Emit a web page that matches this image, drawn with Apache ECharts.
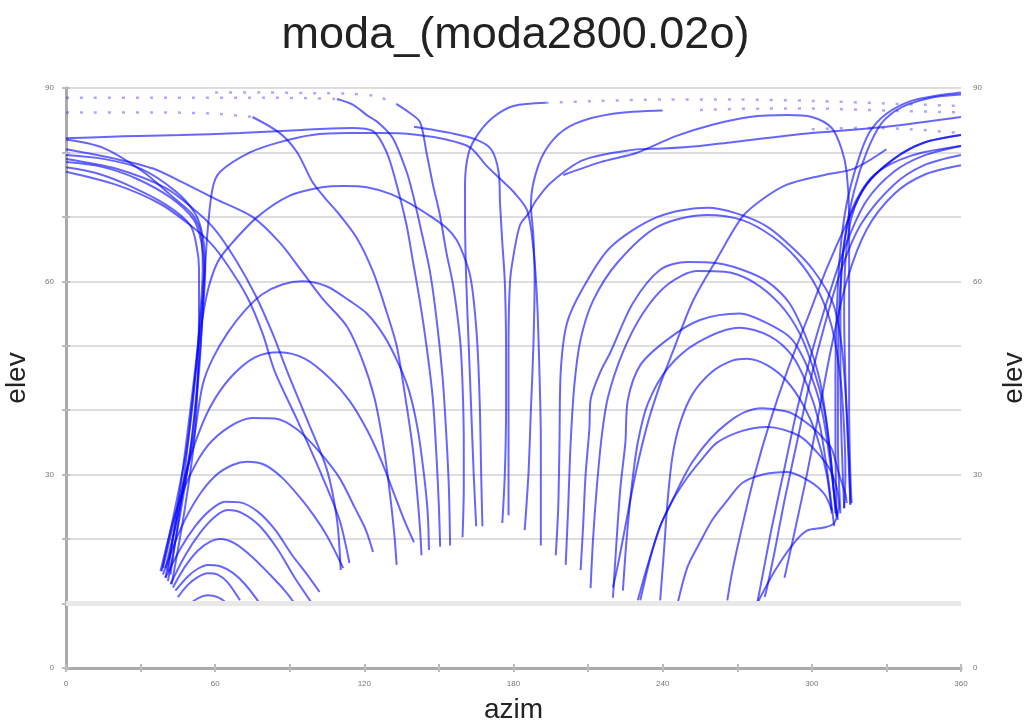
<!DOCTYPE html>
<html>
<head>
<meta charset="utf-8">
<script src="https://cdn.jsdelivr.net/npm/echarts@6/dist/echarts.min.js"></script>
<style>
html,body{margin:0;padding:0;background:#fff;}
#chart{width:1031px;height:726px;}
</style>
</head>
<body>
<div id="chart"></div>
<script>
// Tick labels
const xTickLabels = [0, 60, 120, 180, 240, 300, 360];
const yTickLabels = [0, 30, 60, 90];
const maskElevation = 10;

// Satellite tracks, each a list of [azimuth, elevation] points
const leftArcs = [
  [[38,15],[44,24],[50,30],[57,34.5],[66,37.5],[75,38.8],[84,38.7],[93,37],[102,33.5],[110,29.5],[116,25],[120.5,21.5],[123.5,18]],
  [[39,14.5],[46,21.5],[53,26.5],[60,29.8],[67,31.5],[73,32],[80,31.5],[87,29.5],[94,26.5],[100,23.5],[105,20.5],[109,17.5],[111.5,15.5]],
  [[40,14],[46,18.5],[52,22],[58,24.5],[64,25.8],[70,25.7],[77,24.3],[84,21.5],[91,17.5],[97,14.5],[102,11.8]],
  [[42,13],[48,17.5],[54,21],[60,23.5],[65,24.5],[71,24],[78,22],[85,18.5],[92,14],[99,10]],
  [[43,12.5],[48,15.8],[53,18.2],[58,19.6],[62,20],[68,19.3],[75,17.2],[82,14.5],[88,12],[92,10]],
  [[44,12],[49,14.2],[53,15.4],[57,16],[62,15.8],[67,14.8],[72,13],[78,10]],
  [[45,11],[49,12.9],[53,14.1],[57,14.7],[61,14.5],[65,13.3],[70,10.5]],
  [[51,10.3],[54,11],[57,11.3],[61,11],[65,10]],
  [[39,15.5],[43,22],[47,28.5],[52,35],[58,40.5],[66,45],[76,48.2],[86,49],[96,48],[106,45],[114,41.5],[121,37],[127,32],[132,27],[136,23],[140,19.5]],
  [[40,15.5],[44,22],[48,29],[52,37],[55,44],[59,48],[65,52],[72,55.5],[79,58],[87,59.5],[95,60],[105,59.2],[114,57],[121,55],[128,51.5],[134,47],[138,43],[141.5,37],[144,30],[145.5,24],[146,18.3]]
];

const leftBundle = [
  [[38.5,15],[44,25],[49,35],[52,45],[54,55],[55,62],[54.5,67],[51,70.3],[42,73.4],[31,77],[15,80.7],[0,82]],
  [[40,14],[45,24],[50,34],[53,45],[55,55],[56,62],[55,67],[52,70.5],[44,74],[30,77.5],[15,79],[0,79.6]],
  [[41,13.5],[46,24],[50.5,35],[53.5,46],[55,56],[55.5,62],[54.5,66],[51.5,69.5],[42,73],[28,76],[14,77.8],[0,78.5]],
  [[42.5,13],[47.5,24],[51.5,35],[53,45],[53.5,55],[53.5,62],[52.5,65.5],[50,68.7],[40.6,71.8],[24.5,75],[12,76.8],[0,77.7]]
];

const leftDiagonals = [
  [[0,80.5],[20,79],[35,77.5],[46.7,75.4],[60,72.8],[75,70],[86,66],[95,61.5],[103,57.4],[113,53],[119,48],[124,42],[127.5,35],[130,28],[132,21],[133,16]],
  [[0,77],[20,75],[38,72],[50,68.7],[58,66],[65,62.5],[73,57.5],[79,52],[84,46],[93,38.5],[102,30.7],[110,23],[114,16.3]],
  [[0,79],[20,77.5],[40,74.5],[52,71],[60,68],[68,63.5],[76,58],[83,52],[89,46],[97,38.5],[105,30.7],[109,23],[110.5,15.2]]
];

const centerTracks = [
  [[75,85.5],[86,83],[93,80],[99,75.5],[104,73],[109,70.8],[117,66.7],[123.5,61.5],[129,55.2],[133,50],[136.5,42],[139.5,34],[141.5,26],[142.5,21],[143,17.5]],
  [[0,82.2],[23,82.5],[46,82.7],[70,83],[95,83.5],[115,83.8],[123.5,83.3],[129,80],[133,75],[137,68.7],[139.6,63],[142.4,56.8],[145,50],[147.5,42],[149,33],[150,25],[150.5,18.8]],
  [[109,88.3],[115.5,87.4],[121,85.8],[126,84.5],[131.5,82.2],[137,77],[139.6,73.4],[142.4,68.7],[146.4,61.5],[149,54.3],[151.5,45],[153,36],[154,28],[154.5,19]],
  [[133,87.5],[138,86.2],[142.4,84.7],[145,80],[147.6,75],[150.4,70.3],[153,64.5],[155.7,59.4],[158.5,51],[159.5,44],[160,35],[160,28],[159.5,20.3]],
  [[193,87.7],[180,87.2],[172,85.5],[166,83],[162,80],[160.5,75],[160.5,70],[161,60],[162,50],[163,40],[164,30],[165,22]],
  [[42,14.5],[47,28],[51,42],[54,52],[57,58.5],[61,63],[66,65.6],[77,70],[90,73.3],[103,74.6],[112,74.8],[121,74.6],[131,73.5],[139.6,71.8],[147,70],[153,68.3],[157,66.5],[160,64],[162.5,61],[164,57],[165.5,50],[166.5,40],[167,30],[167.5,22]],
  [[140,84],[155,83],[165,82],[171,80.5],[174,77],[174.6,72],[175.5,66],[176.5,60],[177,50],[177,40],[176.5,30],[175.5,22.5]],
  [[360,85.5],[330,84],[300,83],[268,81.6],[255,81],[240,80.6],[228,80.4],[208,78.8],[195,75.3],[189,72.5],[186,70.5],[182.6,68.7],[180,64],[178.6,60],[178,50],[178,40],[178,30],[178,23.7]],
  [[240,86.5],[220,86],[205,84.5],[196,82],[190,78],[187,72],[188,67],[188.5,60],[188,50],[187,40],[186,30],[184.5,21.4]],
  [[41,15],[46,28],[50,40],[53,50],[55.5,60],[57,68],[59,74.5],[62,77],[74,80],[86,81.6],[99,82.7],[113,83],[126,83],[140,82.8],[153,82],[162.5,80.8],[169,78],[176,75.4],[180,73.9],[185.5,71],[188,65],[189.5,57],[190.5,45],[191,35],[191,27],[191,19]]
];

const rightArcs = [
  [[197,17.5],[198,25],[198.5,35],[199,46],[201.5,53.5],[208,59],[219,65.3],[238,70],[258,71.4],[270,70.5],[282,68.5],[292,65.3],[300.5,61.8],[308.5,56.6],[312,50],[314,40],[315,32],[315.5,25.3]],
  [[201,16],[202,25],[203,35],[204.5,44],[207,51],[212,57],[222,63],[238,68.5],[258,70.3],[272,69.5],[284,67],[294,63.5],[302,59],[308,53],[311.5,45],[313,37],[313.5,30],[313,24.8]],
  [[207,15.2],[208,22],[209,30],[210.5,37],[211,41.6],[215,46],[219,49],[228,56.6],[239,61.8],[250,63],[262,62.8],[272,61.8],[282,60],[291,56.6],[298,51],[303,45],[306,38],[308,31],[309.5,24]],
  [[211,12.4],[212,20],[213.5,28],[215.5,36],[218,42],[224,49],[232,55],[242,59.5],[254,61.6],[265,61.5],[276,60],[287,56.5],[295,52],[301,46],[305,40],[307.5,33],[309,27],[310,23.5]],
  [[220,10.9],[221.5,20],[223,28],[225,35],[226,41.6],[231,47],[242,51],[255,54],[271,55],[282,53.5],[292,51],[299,46],[304,40],[307,33],[309,27],[310.5,23]],
  [[224,12],[225.5,20],[227.5,28],[230,35],[234,41],[242,46.5],[254,50.5],[271,52.8],[283,51.5],[292,48.5],[298,44],[303,38],[306,31],[308,25],[309,22]],
  [[239,10.5],[240.5,18],[242,26],[244,33],[247,38],[252,42.5],[260,46],[268,47.7],[274,48],[282,47],[290,44.5],[297,40.5],[302,36],[306,30],[308,24]],
  [[231,10.5],[235,17],[239,22],[242,24.5],[247,28.5],[252,32],[259,35.5],[266,38],[273,39.7],[280,40.3],[287,40],[292,39.5],[300,37.4],[305,35.5],[308,34],[311,30],[313.5,27],[314,25.6]],
  [[230,10.5],[234,16],[239,22],[244,26],[250,29.6],[256,32.5],[262,35],[272,36.8],[282,37.4],[295,36],[302,33.5],[307,31],[310,28],[311,25]],
  [[246,10],[250,15.7],[255,19.5],[260,23],[266,26],[272,28.7],[280,30],[290,30.4],[299,29],[305,27],[308,24.5]],
  [[278,10],[285,15],[292,19],[298,21.3],[305,21.8],[309,22.5],[311,25]]
];

const rightBundle = [
  [[315.5,25.5],[314.5,35],[313.5,45],[313,55],[313.5,63],[316,70],[322,75],[333,79],[345,81.5],[360,82.7]],
  [[313,24.8],[312,35],[311.5,45],[311.5,55],[312.5,64],[316,71],[325,76.5],[340,79.5],[360,81]],
  [[310,23.5],[309.5,35],[309.5,45],[310,55],[311.5,65],[314,72],[318,78],[323,83],[330,86],[340,88],[350,88.8],[360,89.3]],
  [[311.5,24],[310.5,35],[310.5,46],[311,56],[313,66],[317,74],[322,80],[328,84.5],[336,87],[348,88.5],[360,89]],
  [[200,76.5],[215,78.5],[230,80],[245,82.5],[260,84.3],[275,85.5],[290,85.8],[300,85.5],[308,83.8],[312,80.5],[314,77],[315,70],[315,60],[315,50],[315,40],[315.5,30],[316,25.6]]
];

const rightDiagonals = [
  [[360,82.7],[345,81.5],[333,79],[322,75],[314,69],[306,62],[298,54],[290,46],[283,38],[277,30],[272,22],[268,15],[266,10.5]],
  [[360,81],[345,79.5],[333,77],[322,72.5],[314,66],[307,58],[300,49],[294,40],[289,31],[284,22],[280,14],[278,10]],
  [[360,79.6],[345,78],[333,75],[320,69],[312,62],[305,53],[299,44],[294,35],[289,26],[285,18],[282,12.5],[281,11]],
  [[360,78],[345,76.5],[333,73.5],[322,68],[314,60],[308,50],[303,40],[298,30],[293,21],[289,14]],
  [[330,80.5],[317,77.5],[305,76.5],[290,75],[280,72.7],[272,70],[262,63.6],[252,56.8],[244,49],[239,44],[234,38],[229,30],[225,22],[222,16],[220,12.5]]
];

const dottedTracks = [
  [[0,88.5],[40,88.5],[80,88.5],[100,88.4],[109,88.3]],
  [[60,89.3],[80,89.3],[100,89.2],[115,89.1],[125,88.7],[133,87.5]],
  [[0,86.2],[40,86.2],[60,86],[75,85.5]],
  [[193,87.7],[215,88],[240,88.2],[270,88.2],[300,88],[330,87.6],[360,87.2]],
  [[255,86.6],[280,86.8],[300,86.8],[330,86.5],[360,86.2]],
  [[300,83.6],[320,83.8],[340,83.6],[360,83]]
];

const solidGroups = [leftArcs, leftBundle, leftDiagonals, centerTracks, rightArcs, rightBundle, rightDiagonals];

const series = [];
series.push({
  type: 'line', data: [], silent: true, xAxisIndex: 0, yAxisIndex: 0, z: 1,
  markLine: {
    silent: true, symbol: 'none', label: { show: false },
    lineStyle: { color: '#e8e8e8', width: 5, type: 'solid' },
    data: [{ yAxis: maskElevation }]
  }
});
solidGroups.forEach(group => group.forEach(track => {
  series.push({
    type: 'line', data: track, showSymbol: false, smooth: 0.3, silent: true,
    xAxisIndex: 0, yAxisIndex: 0, z: 3,
    lineStyle: { color: 'rgba(0,0,255,0.6)', width: 2 }
  });
}));
dottedTracks.forEach(track => {
  series.push({
    type: 'line', data: track, showSymbol: false, smooth: 0.3, silent: true,
    xAxisIndex: 0, yAxisIndex: 0, z: 3,
    lineStyle: { color: 'rgba(40,40,255,0.4)', width: 2.5, type: [3, 11] }
  });
});

const axisLineStyle = { color: '#aaaaaa', width: 3 };
const labelStyle = { fontSize: 8, color: '#777', fontFamily: 'Liberation Sans, Arial, sans-serif' };
const nameStyle = { fontSize: 28, color: '#222', fontFamily: 'Liberation Sans, Arial, sans-serif' };

const chart = echarts.init(document.getElementById('chart'), null, { renderer: 'canvas' });
chart.setOption({
  animation: false,
  backgroundColor: '#ffffff',
  title: {
    text: 'moda_(moda2800.02o)', left: 'center', top: 8,
    textStyle: { fontSize: 45, fontWeight: 'normal', color: '#222', fontFamily: 'Liberation Sans, Arial, sans-serif' }
  },
  grid: { left: 66, right: 70, top: 88, bottom: 58, outerBoundsMode: 'none', containLabel: false },
  xAxis: [
    {
      type: 'value', min: 0, max: 360, interval: 30, position: 'bottom',
      axisLine: { lineStyle: axisLineStyle },
      axisTick: { show: true, length: 4, lineStyle: { color: '#bbb', width: 2 } },
      axisLabel: { ...labelStyle, margin: 12, formatter: v => xTickLabels.includes(v) ? String(v) : '' },
      splitLine: { show: false },
      name: 'azim', nameLocation: 'middle', nameGap: 28, nameTextStyle: nameStyle
    },
    {
      type: 'value', min: 0, max: 360, interval: 30, position: 'top',
      axisLine: { lineStyle: axisLineStyle },
      axisTick: { show: true, length: 4, lineStyle: { color: '#bbb', width: 2 } },
      axisLabel: { show: false },
      splitLine: { show: false }
    }
  ],
  yAxis: [
    {
      type: 'value', min: 0, max: 90, interval: 10, position: 'left',
      axisLine: { show: true, lineStyle: axisLineStyle },
      axisTick: { show: true, length: 4, lineStyle: { color: '#bbb', width: 2 } },
      axisLabel: { ...labelStyle, margin: 12, formatter: v => yTickLabels.includes(v) ? String(v) : '' },
      splitLine: { show: true, lineStyle: { color: '#dedede', width: 2 } },
      name: 'elev', nameLocation: 'middle', nameGap: 35, nameRotate: 90, nameTextStyle: nameStyle
    },
    {
      type: 'value', min: 0, max: 90, interval: 10, position: 'right',
      axisLine: { show: true, lineStyle: axisLineStyle },
      axisTick: { show: true, length: 4, lineStyle: { color: '#bbb', width: 2 } },
      axisLabel: { ...labelStyle, margin: 12, formatter: v => yTickLabels.includes(v) ? String(v) : '' },
      splitLine: { show: false },
      name: 'elev', nameLocation: 'middle', nameGap: 39, nameRotate: 90, nameTextStyle: nameStyle
    }
  ],
  series: series
});
</script>
</body>
</html>
